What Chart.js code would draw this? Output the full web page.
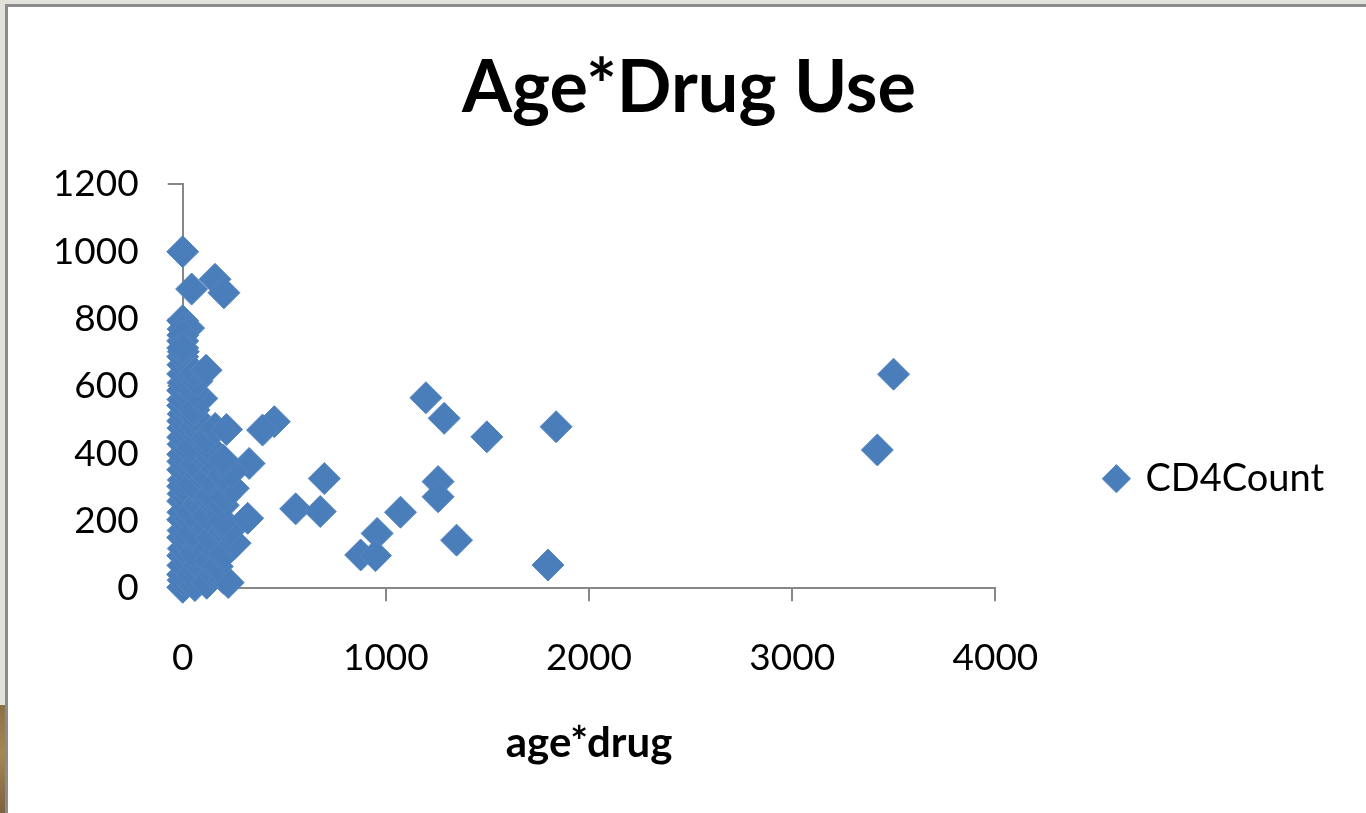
<!DOCTYPE html>
<html>
<head>
<meta charset="utf-8">
<title>Age*Drug Use</title>
<script src="https://cdn.jsdelivr.net/npm/chart.js@4.4.1/dist/chart.umd.min.js"></script>
<style>
  html, body { margin: 0; padding: 0; width: 1366px; height: 813px; overflow: hidden; background: #e3e1dc; }
  #sheet { position: absolute; left: 5px; top: 4px; right: 0; bottom: 0; background: #ffffff;
           border-left: 3px solid #8b8b8b; border-top: 3px solid #8b8b8b; }
  #edge { position: absolute; left: 0; top: 705px; width: 5px; height: 108px;
          background: linear-gradient(#8e7046, #a58656 45%, #7d6240); }
  #wrap { position: absolute; left: 0; top: 0; width: 1366px; height: 813px; }
</style>
</head>
<body>
<div id="sheet"></div>
<div id="edge"></div>
<div id="wrap"><canvas id="chart" width="1366" height="813"></canvas></div>
<script>
// Chart text
const chartTitle = 'Age*Drug Use';
const xAxisTitle = 'age*drug';
const seriesName = 'CD4Count';

// Axis tick values and their labels
const xTickValues = [0, 1000, 2000, 3000, 4000];
const xTickLabels = ['0', '1000', '2000', '3000', '4000'];
const yTickValues = [0, 200, 400, 600, 800, 1000, 1200];
const yTickLabels = ['0', '200', '400', '600', '800', '1000', '1200'];

// age*drug product for each subject
const ageDrug = [
  1197, 1287, 1497, 1838, 697, 556, 677, 1257, 1257, 1072,
  957, 876, 949, 1348, 1798, 3499, 3419, 451, 393, 327,
  0, 44, 159, 203, 0, 29, 2, 0, 1,
  0, 2, 0, 1, 0, 3, 0, 2, 0, 1, 0, 2, 0, 3, 0, 1, 0, 2, 0, 1, 0, 3, 0, 1, 0, 2, 0, 1, 0, 3, 0,
  60, 45, 80, 55, 90, 50, 85, 40, 75, 95, 50, 85, 60, 100, 45, 80, 60, 60, 55, 94, 55, 70, 60,
  118, 150, 130, 170, 140, 175, 120, 160, 135, 180, 125, 165, 140, 130, 115, 160, 115,
  200, 224, 170, 200, 258, 230, 200, 200, 208, 249, 200, 240, 200, 216,
  320
];

// CD4 count for each subject
const cd4Count = [
  566, 505, 450, 480, 326, 236, 228, 317, 272, 226,
  163, 99, 97, 143, 69, 636, 411, 495, 470, 371,
  1000, 889, 918, 878, 795, 773, 770, 735, 752,
  3, 24, 41, 68, 97, 118, 151, 172, 204, 226, 259, 281, 303, 322, 352, 377, 398, 428, 449, 476, 497, 518, 543, 561, 588, 611, 637, 664, 688, 703, 714,
  8, 40, 70, 105, 130, 165, 195, 225, 250, 280, 310, 340, 370, 395, 420, 450, 480, 510, 530, 564, 585, 615, 640,
  15, 45, 80, 110, 150, 185, 215, 245, 275, 300, 330, 355, 390, 420, 445, 475, 648,
  30, 17, 65, 100, 134, 170, 200, 247, 272, 297, 336, 345, 381, 472,
  208
];

const points = ageDrug.map((x, i) => ({ x: x, y: cd4Count[i] }));

const FONT = 'Lato, "Open Sans", "DejaVu Sans", sans-serif';
const AXIS_GREY = '#878787';
const MARK_BLUE = '#4a7ebb';

function labelFor(values, labels) {
  return (value) => {
    const i = values.indexOf(value);
    return i >= 0 ? labels[i] : '';
  };
}

new Chart(document.getElementById('chart'), {
  type: 'scatter',
  data: {
    datasets: [{
      label: seriesName,
      data: points,
      pointStyle: 'rectRot',
      pointRadius: 16,
      pointHoverRadius: 16,
      backgroundColor: MARK_BLUE,
      borderColor: '#5585c1',
      borderWidth: 1,
      clip: false
    }]
  },
  options: {
    responsive: false,
    animation: false,
    events: [],
    layout: { padding: { left: 44, right: 32, top: 0, bottom: 0 } },
    plugins: {
      title: {
        display: true,
        text: chartTitle,
        color: '#000000',
        font: { family: FONT, size: 72, weight: 'bold' },
        padding: { top: 46, bottom: 52 }
      },
      legend: {
        position: 'right',
        maxWidth: 420,
        title: { display: true, text: '', font: { size: 12 }, padding: { top: 130, bottom: 0 } },
        labels: {
          usePointStyle: true,
          boxWidth: 20,
          boxHeight: 20,
          padding: 111,
          color: '#000000',
          font: { family: FONT, size: 38 }
        }
      },
      tooltip: { enabled: false }
    },
    scales: {
      x: {
        type: 'linear',
        min: 0,
        max: 4000,
        afterBuildTicks: (scale) => { scale.ticks = xTickValues.map(v => ({ value: v })); },
        afterFit: (scale) => { scale.height = 224.7; },
        grid: { drawOnChartArea: false, drawTicks: true, tickLength: 13, color: AXIS_GREY, lineWidth: 2 },
        border: { display: true, color: AXIS_GREY, width: 2 },
        ticks: {
          color: '#000000',
          font: { family: FONT, size: 37 },
          padding: 35,
          maxRotation: 0,
          callback: labelFor(xTickValues, xTickLabels)
        },
        title: {
          display: true,
          text: xAxisTitle,
          color: '#000000',
          font: { family: FONT, size: 42, weight: 'bold' },
          padding: { top: 0, bottom: 44 }
        }
      },
      y: {
        type: 'linear',
        min: 0,
        max: 1200,
        afterBuildTicks: (scale) => { scale.ticks = yTickValues.map(v => ({ value: v })); },
        afterFit: (scale) => { scale.width = 138.7; },
        grid: { drawOnChartArea: false, drawTicks: true, tickLength: 15, color: AXIS_GREY, lineWidth: 2 },
        border: { display: true, color: AXIS_GREY, width: 2 },
        ticks: {
          color: '#000000',
          font: { family: FONT, size: 37 },
          padding: 29,
          callback: labelFor(yTickValues, yTickLabels)
        }
      }
    }
  }
});
</script>
</body>
</html>
